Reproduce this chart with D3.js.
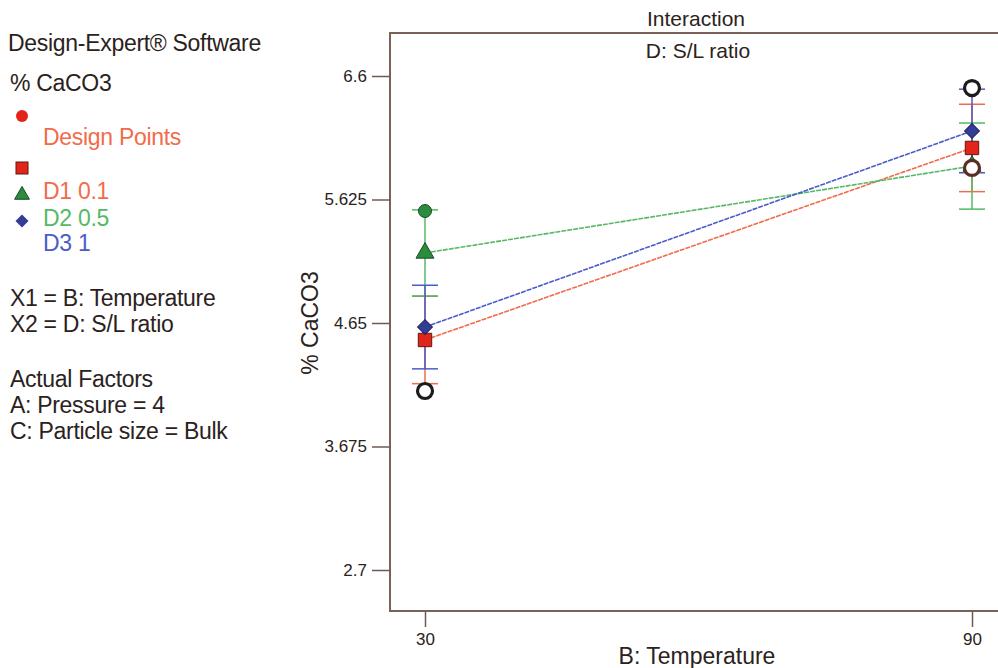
<!DOCTYPE html>
<html>
<head>
<meta charset="utf-8">
<script src="https://cdn.jsdelivr.net/npm/d3@7"></script>
<style>
  body { margin: 0; background: #fff; }
  text { font-family: "Liberation Sans", Arial, sans-serif; }
</style>
</head>
<body>
<div id="chart"></div>
<script>
// B: Temperature levels
const temps = [30, 90];
// predicted % CaCO3 for each S/L ratio level
const seriesNames = ["D1 0.1", "D2 0.5", "D3 1"];
const d1Values = [4.516, 6.032];
const d2Values = [5.203, 5.889];
const d3Values = [4.618, 6.166];
// half width of the LSD bars
const lsdHalf = [0.345, 0.34, 0.33];
// design points
const greenPtTemp = [30];
const greenPtVal = [5.534];
const openPtTemp = [30, 90, 90];
const openPtVal = [4.113, 6.505, 5.874];
const yTicks = [6.6, 5.625, 4.65, 3.675, 2.7];
const yTickLabels = ["6.6", "5.625", "4.65", "3.675", "2.7"];

const seriesValues = [d1Values, d2Values, d3Values];
const lineColors = ["#f26b4a", "#55b866", "#4a5cc8"];
const markFill = ["#e3241b", "#2a8c3c", "#343c96"];
const openStroke = ["#1c1c1c", "#1c1c1c", "#5a2e22"];

const svg = d3.select("#chart")
    .append("svg")
    .attr("width", 998)
    .attr("height", 668);

const x = d3.scaleLinear().domain([30, 90]).range([425, 972]);
const y = d3.scaleLinear().domain([2.7, 6.6]).range([570, 76]);

const ink = "#2b2220";

// left legend block
const legend = svg.append("g").style("font-size", "23px").style("letter-spacing", "-0.3px");
legend.append("text").attr("x", 8).attr("y", 51).attr("fill", ink).text("Design-Expert® Software");
legend.append("text").attr("x", 10).attr("y", 91).attr("fill", ink).text("% CaCO3");
legend.append("circle").attr("cx", 22).attr("cy", 116).attr("r", 6).attr("fill", "#e3241b");
legend.append("text").attr("x", 43).attr("y", 145).attr("fill", "#f26b4a").text("Design Points");
legend.append("rect").attr("x", 16).attr("y", 162).attr("width", 12).attr("height", 12)
    .attr("fill", markFill[0]).attr("stroke", "#5a1a10");
legend.append("path").attr("transform", "translate(22,195)")
    .attr("d", d3.symbol(d3.symbolTriangle, 95)()).attr("fill", markFill[1]).attr("stroke", "#1d4a24");
legend.append("path").attr("transform", "translate(22,221) rotate(45)")
    .attr("d", d3.symbol(d3.symbolSquare, 85)()).attr("fill", markFill[2]);
const legendY = [199, 226, 251];
seriesNames.forEach((s, i) => {
    legend.append("text").attr("x", 43).attr("y", legendY[i]).attr("fill", lineColors[i]).text(s);
});
const infoLines = ["X1 = B: Temperature", "X2 = D: S/L ratio", "", "Actual Factors", "A: Pressure = 4", "C: Particle size = Bulk"];
const infoY = [306, 332, 0, 387, 413, 439];
infoLines.forEach((t, i) => {
    if (t) legend.append("text").attr("x", 10).attr("y", infoY[i]).attr("fill", ink).text(t);
});

// plot frame
svg.append("rect")
    .attr("x", 390).attr("y", 33)
    .attr("width", 620).attr("height", 578)
    .attr("fill", "none")
    .attr("stroke", "#7a6258")
    .attr("stroke-width", 2);

// titles
svg.append("text").attr("x", 696).attr("y", 26).attr("text-anchor", "middle")
    .attr("fill", ink).style("font-size", "21px").text("Interaction");
svg.append("text").attr("x", 698).attr("y", 58).attr("text-anchor", "middle")
    .attr("fill", ink).style("font-size", "21px").text("D: S/L ratio");

// Y axis
const yAxis = svg.append("g")
    .attr("transform", "translate(390,0)")
    .call(d3.axisLeft(y).tickValues(yTicks).tickSize(18).tickPadding(5)
        .tickFormat((d, i) => yTickLabels[i]));
yAxis.select(".domain").remove();
yAxis.selectAll("line").attr("stroke", "#6e5a52").attr("stroke-width", 1.5);
yAxis.selectAll("text").attr("fill", ink).style("font-size", "17px")
    .style("font-family", "'Liberation Sans', Arial, sans-serif");

// X axis
const xAxis = svg.append("g")
    .attr("transform", "translate(0,611)")
    .call(d3.axisBottom(x).tickValues(temps).tickSize(16).tickPadding(6).tickFormat(d3.format("d")));
xAxis.select(".domain").remove();
xAxis.selectAll("line").attr("stroke", "#6e5a52").attr("stroke-width", 1.5);
xAxis.selectAll("text").attr("fill", ink).style("font-size", "17px")
    .style("font-family", "'Liberation Sans', Arial, sans-serif");

// axis titles
svg.append("text").attr("x", 697).attr("y", 664).attr("text-anchor", "middle")
    .attr("fill", ink).style("font-size", "23px").text("B: Temperature");
svg.append("text").attr("transform", "translate(318,323) rotate(-90)")
    .attr("text-anchor", "middle").attr("fill", ink).style("font-size", "23px").text("% CaCO3");

const plot = svg.append("g");

// LSD bars
seriesValues.forEach((vals, i) => {
    const g = plot.append("g").attr("stroke", lineColors[i]).attr("stroke-width", 1.5);
    vals.forEach((v, j) => {
        const cx = x(temps[j]);
        g.append("line").attr("x1", cx).attr("x2", cx)
            .attr("y1", y(v - lsdHalf[i])).attr("y2", y(v + lsdHalf[i]));
        [v - lsdHalf[i], v + lsdHalf[i]].forEach(b => {
            g.append("line").attr("x1", cx - 13).attr("x2", cx + 13)
                .attr("y1", y(b)).attr("y2", y(b));
        });
    });
});

// interaction lines
const line = d3.line().x((d, j) => x(temps[j])).y(d => y(d));
seriesValues.forEach((vals, i) => {
    plot.append("path")
        .datum(vals)
        .attr("fill", "none")
        .attr("stroke", lineColors[i])
        .attr("stroke-width", 1.6)
        .attr("stroke-dasharray", "5,1")
        .attr("d", line);
});

// prediction markers
const markerSym = [d3.symbolSquare, d3.symbolTriangle, d3.symbolSquare];
const markerSize = [180, 140, 110];
const markerRot = [0, 0, 45];
const markerStroke = ["#5a1a10", "#1d4a24", "#1d2060"];
seriesValues.forEach((vals, i) => {
    plot.selectAll(null)
        .data(vals)
        .enter()
        .append("path")
        .attr("transform", (d, j) => `translate(${x(temps[j])},${y(d)}) rotate(${markerRot[i]})`)
        .attr("d", d3.symbol(markerSym[i], markerSize[i])())
        .attr("fill", markFill[i])
        .attr("stroke", markerStroke[i])
        .attr("stroke-width", 1);
});

// design points
plot.selectAll(null)
    .data(greenPtVal)
    .enter()
    .append("circle")
    .attr("cx", (d, j) => x(greenPtTemp[j]))
    .attr("cy", d => y(d))
    .attr("r", 6.5)
    .attr("fill", "#2a8c3c")
    .attr("stroke", "#1d4a24");

plot.selectAll(null)
    .data(openPtVal)
    .enter()
    .append("circle")
    .attr("cx", (d, j) => x(openPtTemp[j]))
    .attr("cy", d => y(d))
    .attr("r", 7.5)
    .attr("fill", "#fff")
    .attr("stroke", (d, j) => openStroke[j])
    .attr("stroke-width", 3.2);
</script>
</body>
</html>
